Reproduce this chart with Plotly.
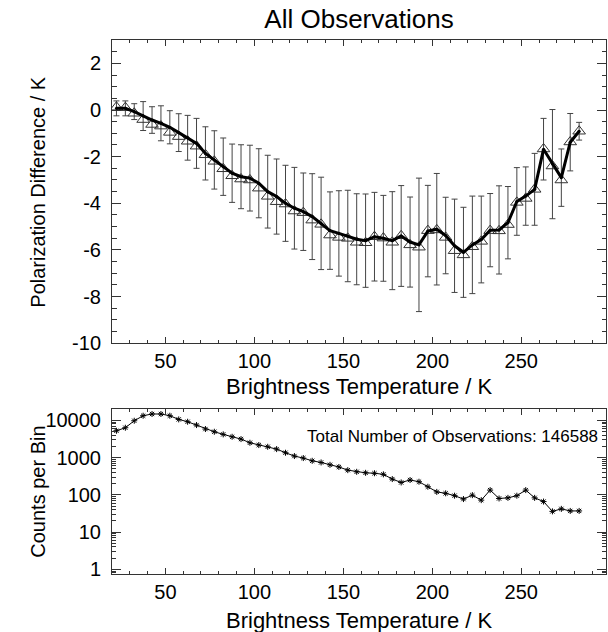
import plotly.graph_objects as go

# ---------------- data ----------------
temp_bins = [22.5, 27.5, 32.5, 37.5, 42.5, 47.5, 52.5, 57.5, 62.5, 67.5,
             72.5, 77.5, 82.5, 87.5, 92.5, 97.5, 102.5, 107.5, 112.5, 117.5,
             122.5, 127.5, 132.5, 137.5, 142.5, 147.5, 152.5, 157.5, 162.5, 167.5,
             172.5, 177.5, 182.5, 187.5, 192.5, 197.5, 202.5, 207.5, 212.5, 217.5,
             222.5, 227.5, 232.5, 237.5, 242.5, 247.5, 252.5, 257.5, 262.5, 267.5,
             272.5, 277.5, 282.5]

mean_diff = [0.07, 0.07, -0.07, -0.26, -0.43, -0.57, -0.74, -0.97, -1.19, -1.43,
             -1.86, -2.14, -2.43, -2.71, -2.86, -2.92, -3.14, -3.50, -3.71, -4.00,
             -4.21, -4.36, -4.57, -4.86, -5.17, -5.29, -5.40, -5.54, -5.60, -5.43,
             -5.50, -5.60, -5.40, -5.66, -5.78, -5.19, -5.11, -5.38, -5.82, -6.10,
             -5.78, -5.55, -5.15, -5.14, -4.83, -3.92, -3.69, -3.40, -1.68, -2.32,
             -2.90, -1.38, -0.91]

median_diff = [0.12, 0.10, -0.14, -0.41, -0.62, -0.69, -0.96, -1.14, -1.34, -1.55,
               -1.92, -2.20, -2.52, -2.82, -2.96, -3.00, -3.35, -3.70, -3.93, -4.03,
               -4.33, -4.40, -4.72, -4.90, -5.36, -5.46, -5.50, -5.67, -5.69, -5.43,
               -5.49, -5.67, -5.39, -5.78, -5.88, -5.17, -5.14, -5.46, -6.03, -6.21,
               -5.86, -5.63, -5.17, -5.18, -4.91, -3.96, -3.79, -3.40, -1.67, -2.40,
               -3.00, -1.37, -0.91]

std_diff = [0.32, 0.32, 0.34, 0.62, 0.57, 0.75, 0.71, 0.81, 0.96, 1.07,
            1.14, 1.25, 1.23, 1.25, 1.37, 1.41, 1.48, 1.56, 1.61, 1.63,
            1.75, 1.66, 1.84, 1.98, 1.66, 1.83, 1.96, 1.95, 2.00, 1.90,
            1.84, 2.10, 2.16, 1.93, 2.86, 1.96, 2.39, 1.64, 2.00, 1.93,
            2.09, 1.86, 1.57, 1.89, 1.55, 1.45, 1.25, 1.54, 1.32, 2.34,
            1.23, 1.23, 0.38]

counts = [5250, 6330, 9750, 13300, 14800, 14800, 13300, 10600, 9170, 7470,
          5840, 4940, 4200, 3620, 3140, 2500, 2170, 1950, 1690, 1350,
          1100, 970, 820, 740, 640, 560, 460, 415, 390, 380,
          355, 265, 215, 250, 225, 165, 120, 110, 95, 77,
          98, 72, 134, 80, 83, 95, 134, 83, 66, 36,
          42, 37, 37]

total_obs = 146588

x_ticks = [50, 100, 150, 200, 250]
x_tick_labels = ["50", "100", "150", "200", "250"]
y_ticks = [-10, -8, -6, -4, -2, 0, 2]
y_tick_labels = ["-10", "-8", "-6", "-4", "-2", "0", "2"]
count_ticks = [1, 10, 100, 1000, 10000]
count_tick_labels = ["1", "10", "100", "1000", "10000"]

# ---------------- styling ----------------
FONT = "Liberation Sans, Arial, Helvetica, sans-serif"
AX = "#333333"

fig = go.Figure()

# error bars (centred on the mean)
fig.add_trace(go.Scatter(
    x=temp_bins, y=mean_diff, mode="markers",
    marker=dict(size=1, color="rgba(0,0,0,0)"),
    error_y=dict(type="data", array=std_diff, visible=True,
                 color="#444444", thickness=1, width=3),
    xaxis="x", yaxis="y", showlegend=False, hoverinfo="skip"))

# open triangles
fig.add_trace(go.Scatter(
    x=temp_bins, y=median_diff, mode="markers",
    marker=dict(symbol="triangle-up-open", size=11,
                line=dict(color="#333333", width=1), color="#333333"),
    xaxis="x", yaxis="y", showlegend=False))

# thick mean line
fig.add_trace(go.Scatter(
    x=temp_bins, y=mean_diff, mode="lines+markers",
    line=dict(color="black", width=3),
    marker=dict(size=3, color="black"),
    xaxis="x", yaxis="y", showlegend=False))

# counts
fig.add_trace(go.Scatter(
    x=temp_bins, y=counts, mode="lines+markers",
    line=dict(color="black", width=1),
    marker=dict(symbol="asterisk-open", size=5, line=dict(color="black", width=1)),
    xaxis="x2", yaxis="y2", showlegend=False))

common_x = dict(
    range=[20, 297.6], tickmode="array", tickvals=x_ticks, ticktext=x_tick_labels,
    ticks="inside", ticklen=6, tickwidth=1, tickcolor=AX,
    minor=dict(dtick=10, tick0=0, ticks="inside", ticklen=3, tickcolor=AX, showgrid=False),
    showline=True, linecolor=AX, linewidth=1, mirror="allticks",
    showgrid=False, zeroline=False, automargin=False,
    tickfont=dict(family=FONT, size=20, color="black"),
)

common_y = dict(
    ticks="inside", ticklen=9, tickwidth=1, tickcolor=AX,
    showline=True, linecolor=AX, linewidth=1, mirror="allticks",
    showgrid=False, zeroline=False, automargin=False, ticklabelstandoff=6,
    tickfont=dict(family=FONT, size=20, color="black"),
)

fig.update_layout(
    width=608, height=632,
    margin=dict(l=112, r=2, t=40, b=58),
    paper_bgcolor="white", plot_bgcolor="white",
    font=dict(family=FONT, color="black"),
    title=dict(text="All Observations", x=0.5, xref="paper", xanchor="center",
               y=1 - 19 / 632, yanchor="middle",
               font=dict(family=FONT, size=26, color="black")),
    xaxis=dict(domain=[0, 1], anchor="y", **common_x),
    yaxis=dict(domain=[0.432, 1], anchor="x", range=[-10, 3],
               tickmode="array", tickvals=y_ticks, ticktext=y_tick_labels,
               minor=dict(dtick=0.5, ticks="inside", ticklen=4.5, tickcolor=AX, showgrid=False),
               **common_y),
    xaxis2=dict(domain=[0, 1], anchor="y2", **common_x),
    yaxis2=dict(domain=[0, 0.3084], anchor="x2", type="log", range=[-0.125, 4.296],
                tickmode="array", tickvals=count_ticks, ticktext=count_tick_labels,
                minor=dict(dtick="D1", ticks="inside", ticklen=4, tickcolor=AX, showgrid=False),
                **common_y),
    annotations=[
        dict(text="Brightness Temperature / K", xref="paper", yref="paper",
             x=0.5, y=(632 - 58 - 387) / 534, xanchor="center", yanchor="middle",
             showarrow=False, font=dict(family=FONT, size=22, color="black")),
        dict(text="Brightness Temperature / K", xref="paper", yref="paper",
             x=0.5, y=(632 - 58 - 620) / 534, xanchor="center", yanchor="middle",
             showarrow=False, font=dict(family=FONT, size=22, color="black")),
        dict(text="Polarization Difference / K", xref="paper", yref="paper",
             x=(38 - 112) / 494, y=(574 - 191.7) / 534, xanchor="center", yanchor="middle",
             textangle=-90, showarrow=False, font=dict(family=FONT, size=20, color="black")),
        dict(text="Counts per Bin", xref="paper", yref="paper",
             x=(38 - 112) / 494, y=(574 - 491.7) / 534, xanchor="center", yanchor="middle",
             textangle=-90, showarrow=False, font=dict(family=FONT, size=20, color="black")),
        dict(text="Total Number of Observations: " + str(total_obs),
             xref="x2", yref="y2", x=294, y=3.56, xanchor="right", yanchor="middle",
             showarrow=False, font=dict(family=FONT, size=17, color="black")),
    ],
)

fig.write_html("out.html")
